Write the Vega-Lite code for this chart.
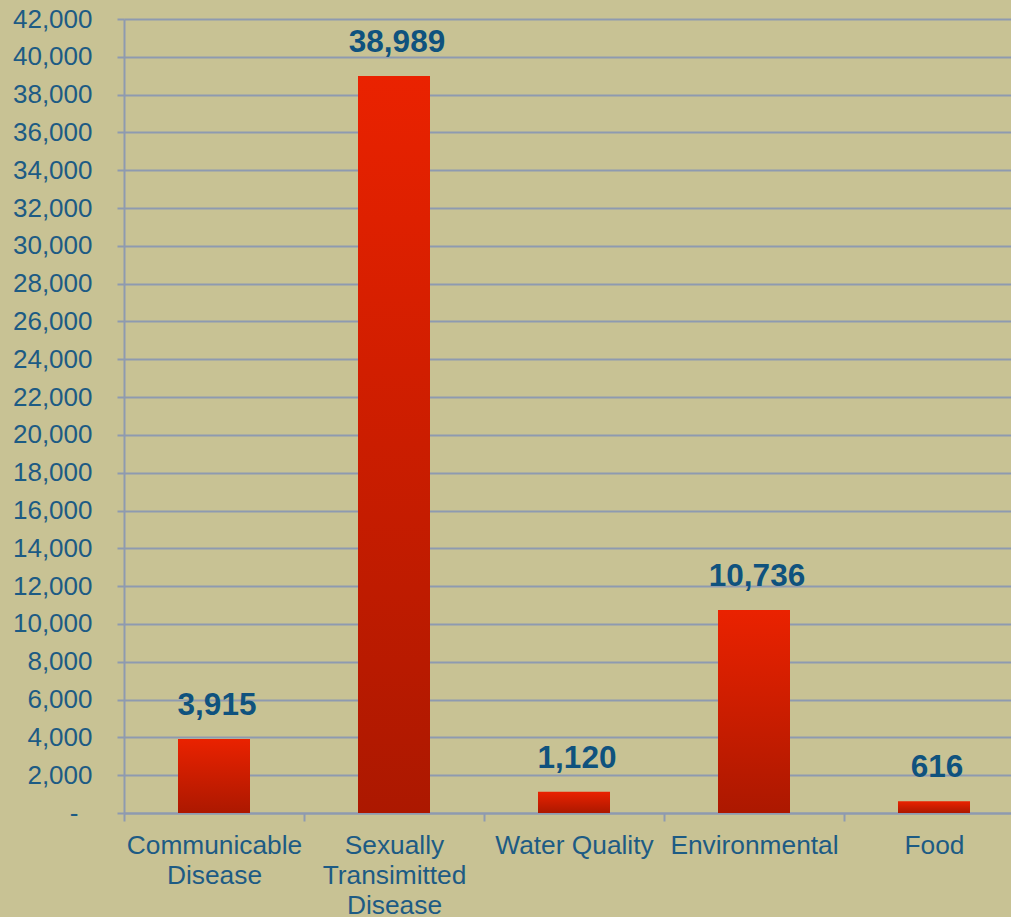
{
  "$schema": "https://vega.github.io/schema/vega-lite/v6.json",
  "width": 900,
  "height": 794,
  "autosize": {"type": "none"},
  "padding": {"top": 19, "left": 124, "right": -13, "bottom": 104},
  "background": "#C8C294",
  "config": {
    "view": {"stroke": null},
    "font": "Liberation Sans"
  },
  "data": {
    "values": [
      {"cat": "Communicable|Disease", "value": 3915},
      {"cat": "Sexually|Transimitted|Disease", "value": 38989},
      {"cat": "Water Quality", "value": 1120},
      {"cat": "Environmental", "value": 10736},
      {"cat": "Food", "value": 616}
    ]
  },
  "encoding": {
    "x": {
      "field": "cat",
      "type": "nominal",
      "sort": null,
      "scale": {"paddingInner": 0.6, "paddingOuter": 0.3},
      "axis": {
        "title": null,
        "labelAngle": 0,
        "labelExpr": "split(datum.value, '|')",
        "labelFontSize": 26.3,
        "labelColor": "#1D5B84",
        "labelLineHeight": 30,
        "labelPadding": 11,
        "labelFont": "Liberation Sans",
        "tickSize": 8,
        "tickWidth": 2,
        "tickColor": "#8E9AB0",
        "tickOffset": -90,
        "labelOffset": 90,
        "domainColor": "#8E9AB0",
        "domainWidth": 2
      }
    },
    "y": {
      "field": "value",
      "type": "quantitative",
      "scale": {"domain": [0, 42000], "nice": false},
      "axis": {
        "title": null,
        "values": [0, 2000, 4000, 6000, 8000, 10000, 12000, 14000, 16000, 18000, 20000, 22000, 24000, 26000, 28000, 30000, 32000, 34000, 36000, 38000, 40000, 42000],
        "labelExpr": "datum.value == 0 ? '-' : format(datum.value, ',')",
        "labelFontSize": 26,
        "labelColor": "#1D5B84",
        "labelPadding": {"condition": {"test": "datum.value == 0", "value": 39}, "value": 25},
        "tickSize": 7,
        "tickWidth": 2,
        "tickColor": "#8E9AB0",
        "grid": true,
        "gridColor": "#8E9AB0",
        "gridWidth": 2,
        "domainColor": "#8E9AB0",
        "domainWidth": 2
      }
    }
  },
  "layer": [
    {
      "mark": {
        "type": "bar",
        "color": {
          "gradient": "linear",
          "x1": 0, "y1": 0, "x2": 0, "y2": 1,
          "stops": [
            {"offset": 0, "color": "#EA2200"},
            {"offset": 1, "color": "#AC1800"}
          ]
        }
      }
    },
    {
      "mark": {
        "type": "text",
        "baseline": "alphabetic",
        "dy": -24,
        "dx": 3,
        "fontSize": 31.5,
        "fontWeight": "bold",
        "color": "#0F527E",
        "font": "Liberation Sans"
      },
      "encoding": {
        "text": {"field": "value", "type": "quantitative", "format": ","}
      }
    }
  ]
}
